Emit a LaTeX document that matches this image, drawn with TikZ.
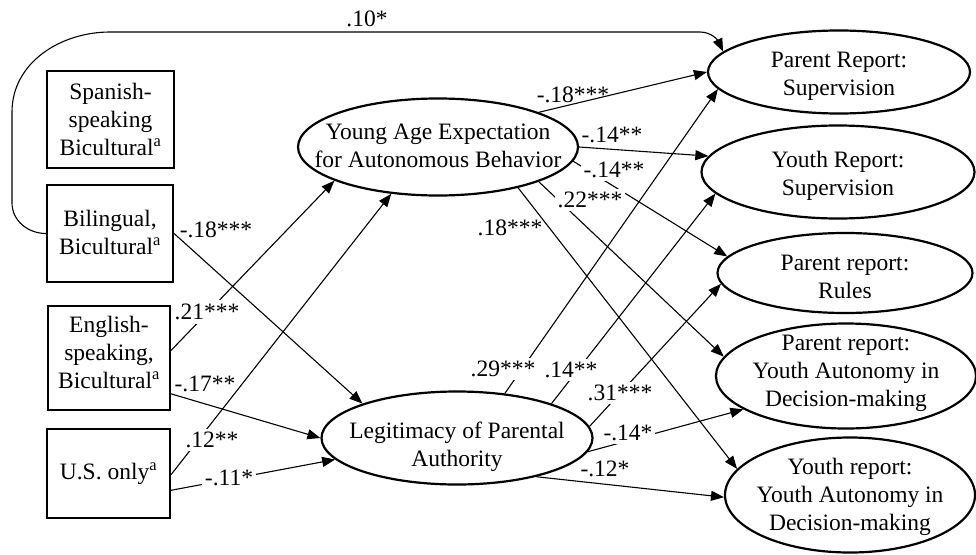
\documentclass[tikz,border=0pt]{standalone}
\usepackage{fontspec}
\setmainfont{Liberation Serif}
\usetikzlibrary{arrows.meta,shapes.geometric}
\begin{document}
\begin{tikzpicture}[x=1pt,y=-1pt,
  font=\fontsize{23.5}{28}\selectfont,
  box/.style={draw,line width=2.2pt,rectangle,inner sep=0pt},
  oval/.style={draw,line width=2.2pt,ellipse,inner sep=0pt},
  txt/.style={align=center,inner sep=0pt},
  conn/.style={line width=1.1pt,-{Triangle[length=13pt,width=10pt]}},
  lbl/.style={inner sep=1pt},
  cut/.style={fill=white,inner sep=3pt}]
\useasboundingbox (0,0) rectangle (976,554);

% boxes
\node[box,minimum width=127pt,minimum height=97pt,
  label={[txt]center:Spanish-\\speaking\\Bicultural\textsuperscript{a}}] (SP) at (110.5,119.5) {};
\node[box,minimum width=126pt,minimum height=97pt,
  label={[txt,yshift=1pt]center:Bilingual,\\Bicultural\textsuperscript{a}}] (BI) at (110,233.5) {};
\node[box,minimum width=122pt,minimum height=104pt,
  label={[txt,yshift=6pt]center:English-\\speaking,\\Bicultural\textsuperscript{a}}] (EN) at (109,358) {};
\node[box,minimum width=123pt,minimum height=89pt,
  label={[txt]center:U.S. only\textsuperscript{a}}] (US) at (108.5,473.5) {};

% mediators
\node[oval,minimum width=280pt,minimum height=97pt,
  label={[txt,yshift=1pt]center:Young Age Expectation\\for Autonomous Behavior}] (YA) at (438,147) {};
\node[oval,minimum width=271pt,minimum height=93pt,
  label={[txt,yshift=-9pt]center:Legitimacy of Parental\\Authority}] (LG) at (457,438) {};

% outcomes
\node[oval,minimum width=262pt,minimum height=83pt,
  label={[txt,yshift=-4pt]center:Parent Report:\\Supervision}] (PS) at (839,72) {};
\node[oval,minimum width=273pt,minimum height=93pt,
  label={[txt,yshift=-4pt]center:Youth Report:\\Supervision}] (YS) at (838,172) {};
\node[oval,minimum width=255pt,minimum height=80pt,
  label={[txt,yshift=-4pt]center:Parent report:\\Rules}] (PR) at (845,273) {};
\node[oval,minimum width=260pt,minimum height=105pt,
  label={[txt,yshift=3pt]center:Parent report:\\Youth Autonomy in\\Decision-making}] (PA) at (846,376) {};
\node[oval,minimum width=250pt,minimum height=115pt,
  label={[txt,yshift=-2pt]center:Youth report:\\Youth Autonomy in\\Decision-making}] (YT) at (850,495) {};

% connectors
\draw[conn] (BI.west) to[out=180,in=270] (12,203) -- (12,112)
  to[out=90,in=180] (110,32) -- (700,32) to[out=0,in=115] (PS.170.9);
\draw[conn] (BI.east) -- (LG.160.8);
\draw[conn] (EN.7.5) -- (YA.198.8);
\draw[conn] (EN.-30.5) -- (LG.west);
\draw[conn] (US.-1.4) -- (YA.225.6);
\draw[conn] (US.-15.9) -- (LG.190.2);

\draw[conn] (YA.19.9) -- (PS.west);
\draw[conn] (YA.east) -- (YS.173.6);
\draw[conn] (YA.-6.8) -- (PR.172.4);
\draw[conn] (YA.-19.8) -- (PA.171.7);
\draw[conn] (YA.-27.7) -- (YT.167.5);

\draw[conn] (LG.43.2) -- (PS.188.7);
\draw[conn] (LG.20) -- (YS.190.4);
\draw[conn] (LG.5.7) -- (PR.185.6);
\draw[conn] (LG.-6.1) -- (PA.198.1);
\draw[conn] (LG.-26) -- (YT.181.4);

% coefficient labels
\node[lbl] (l10) at (367,19) {.10*};
\node[lbl] (lbi) at (216,230) {-.18***};
\node[cut,inner sep=4pt] (l21) at (207,312) {.21***};
\node[lbl] (l17) at (205,384) {-.17**};
\node[cut] (l12a) at (212,440) {.12**};
\node[cut] (l11) at (229,478) {-.11*};

\node[lbl] (ya1) at (573,95) {-.18***};
\node[lbl] (ya2) at (612,135) {-.14**};
\node[cut] (ya3) at (614,170) {-.14**};
\node[cut] (ya4) at (590,200) {.22***};
\node[lbl] (ya5) at (510,228) {.18***};

\node[cut] (lg1) at (503,369) {.29***};
\node[cut] (lg2) at (571,370) {.14**};
\node[cut] (lg3) at (620,393) {.31***};
\node[cut] (lg4) at (628,433) {-.14*};
\node[lbl] (lg5) at (605,469) {-.12*};
\end{tikzpicture}
\end{document}
